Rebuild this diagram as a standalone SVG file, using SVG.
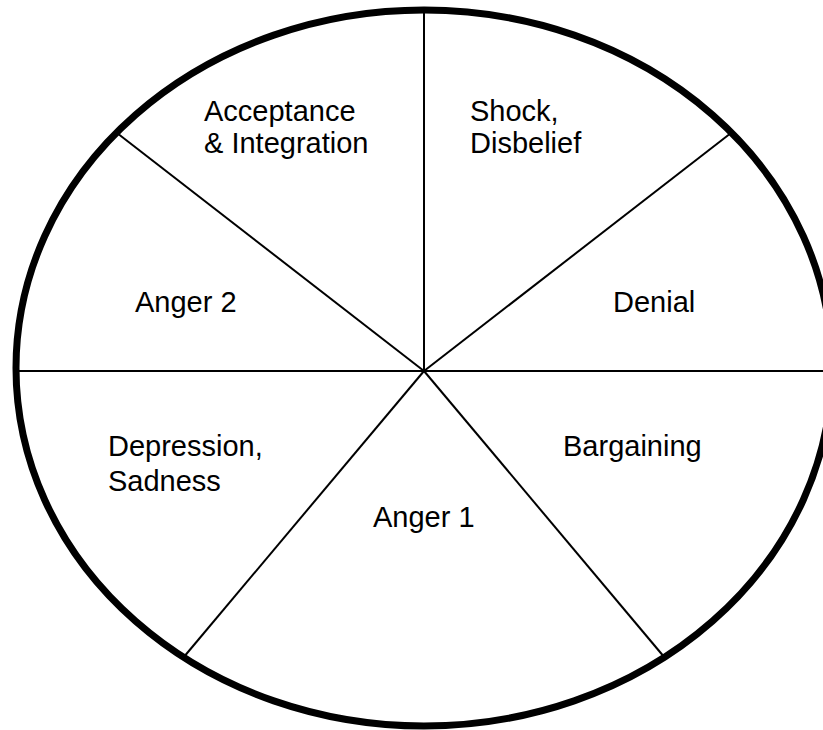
<svg xmlns="http://www.w3.org/2000/svg" width="823" height="730" viewBox="0 0 823 730">
<style>
.lbl{font-family:"Liberation Sans",Arial,sans-serif;font-size:29px;fill:#000}
.ln{stroke:#000;stroke-width:2;fill:none}
</style>
<rect width="823" height="730" fill="#fff"/>
<g id="connectors">
<line class="ln" x1="424" y1="12" x2="424" y2="371"/>
<line class="ln" x1="18" y1="371" x2="830" y2="371"/>
<line class="ln" x1="117" y1="133" x2="424" y2="371"/>
<line class="ln" x1="731" y1="133" x2="424" y2="371"/>
<line class="ln" x1="183" y1="658" x2="424" y2="371"/>
<line class="ln" x1="665" y1="658" x2="424" y2="371"/>
</g>
<g id="circle">
<ellipse cx="424" cy="368" rx="408" ry="358" fill="none" stroke="#000" stroke-width="7"/>
</g>
<g id="acceptance"><text class="lbl" x="204" y="121">Acceptance</text><text class="lbl" x="204" y="153">&amp; Integration</text></g>
<g id="shock"><text class="lbl" x="470" y="121">Shock,</text><text class="lbl" x="470" y="153">Disbelief</text></g>
<g id="anger2"><text class="lbl" x="135" y="312">Anger 2</text></g>
<g id="denial"><text class="lbl" x="613" y="312">Denial</text></g>
<g id="depression"><text class="lbl" x="108" y="456">Depression,</text><text class="lbl" x="108" y="491">Sadness</text></g>
<g id="bargaining"><text class="lbl" x="563" y="456">Bargaining</text></g>
<g id="anger1"><text class="lbl" x="373" y="527">Anger 1</text></g>
</svg>
